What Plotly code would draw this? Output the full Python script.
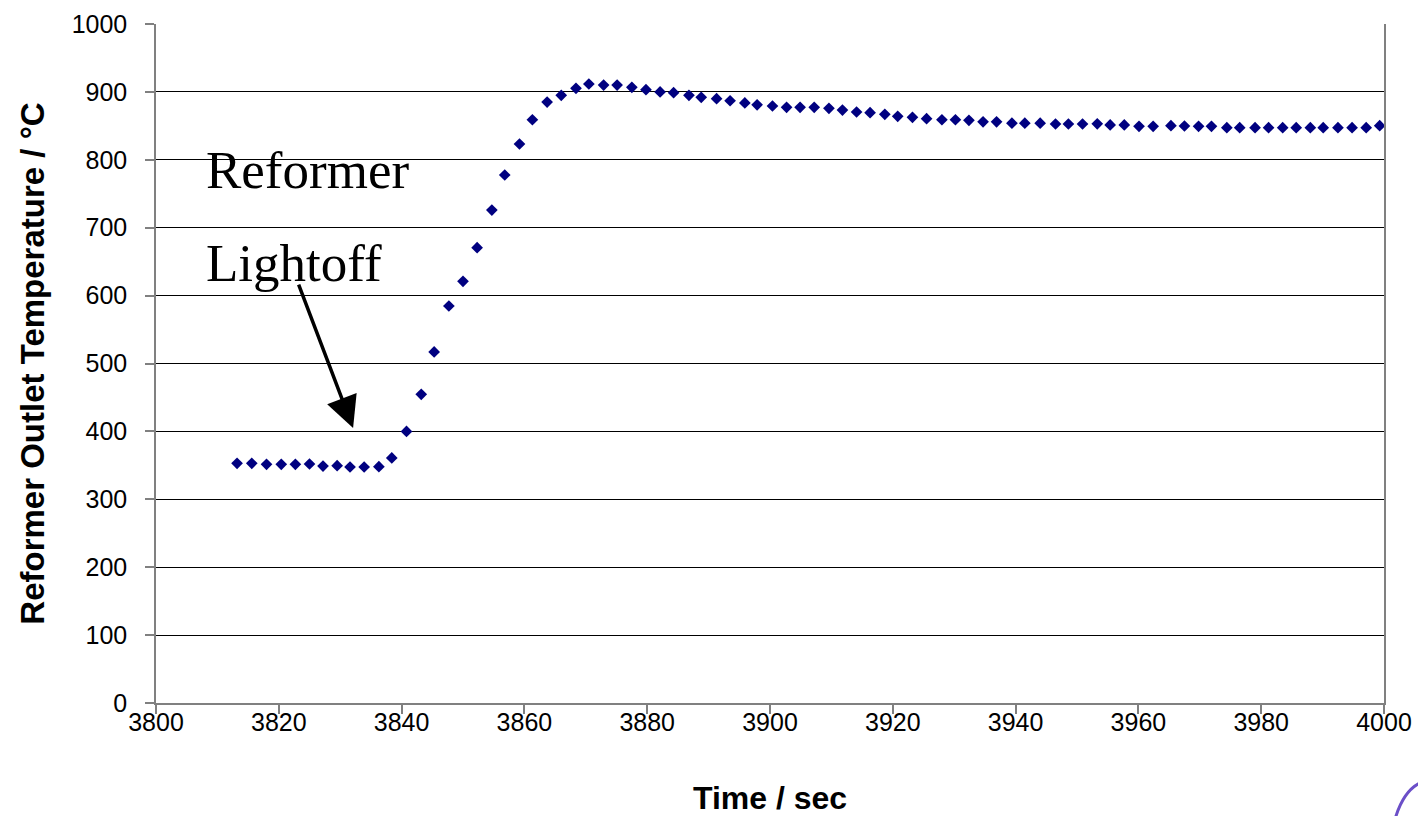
import plotly.graph_objects as go

time_sec = [3813.2, 3815.6, 3818.0, 3820.4, 3822.7, 3825.0, 3827.2, 3829.5, 3831.6, 3833.9,
            3836.3, 3838.4, 3840.8, 3843.2, 3845.3, 3847.7, 3850.0, 3852.3, 3854.7, 3856.8,
            3859.2, 3861.3, 3863.7, 3866.0, 3868.4, 3870.5, 3872.9, 3875.1, 3877.5, 3879.8,
            3882.1, 3884.3, 3886.8, 3888.8, 3891.3, 3893.5, 3895.9, 3897.9, 3900.4, 3902.7,
            3904.9, 3907.2, 3909.6, 3911.8, 3914.1, 3916.3, 3918.7, 3920.8, 3923.2, 3925.5,
            3928.0, 3930.2, 3932.4, 3934.7, 3936.9, 3939.4, 3941.5, 3944.0, 3946.5, 3948.6,
            3950.9, 3953.3, 3955.4, 3957.7, 3960.1, 3962.4, 3965.3, 3967.5, 3969.8, 3971.9,
            3974.4, 3976.5, 3979.0, 3981.2, 3983.5, 3985.7, 3988.0, 3990.1, 3992.5, 3994.8,
            3997.1, 3999.3]

outlet_temp_c = [353, 353, 351.5, 351.5, 351.5, 352, 349, 349.5, 347.6, 347.6,
                 348, 361, 400, 454.6, 517, 584.7, 621, 670.6, 726, 777.6,
                 823.3, 859, 885, 895, 905.3, 911.6, 910, 910, 906.8, 903.3,
                 899.9, 898.9, 895, 892, 890, 887, 883.7, 881, 879.2, 877.3,
                 877.3, 877.3, 875.8, 873.3, 870.4, 869.4, 867, 864, 862.6, 860.6,
                 859, 859, 858.2, 856, 856, 854, 854, 854, 852.7, 852.7,
                 852.7, 853, 851.3, 851.3, 849.3, 849.3, 850.2, 849.8, 849.3, 849.3,
                 847.3, 847.3, 847.3, 847.3, 847.3, 847.3, 847.3, 847.3, 847.3, 847.3,
                 847.3, 850.2]

x_ticks = [3800, 3820, 3840, 3860, 3880, 3900, 3920, 3940, 3960, 3980, 4000]
y_ticks = [0, 100, 200, 300, 400, 500, 600, 700, 800, 900, 1000]

fig = go.Figure()
fig.add_trace(go.Scatter(
    x=time_sec, y=outlet_temp_c, mode="markers",
    marker=dict(symbol="diamond", size=9, color="#000080", line=dict(width=0)),
    showlegend=False,
))

axis_font = dict(family="Liberation Sans, Arial, sans-serif", size=25, color="black")
title_font = dict(family="Liberation Sans, Arial, sans-serif", size=32, color="black")
ytitle_font = dict(family="Liberation Sans, Arial, sans-serif", size=33, color="black")

fig.update_layout(
    width=1418, height=816,
    margin=dict(l=156, r=34, t=24, b=113, pad=0),
    paper_bgcolor="white", plot_bgcolor="white",
    xaxis=dict(
        range=[3800, 4000], tickvals=x_ticks, ticktext=[str(v) for v in x_ticks],
        showgrid=False, zeroline=False, showline=True, linecolor="#808080", linewidth=1.5,
        ticks="outside", ticklen=9, tickcolor="#808080", tickwidth=1.5,
        tickfont=axis_font, ticklabelstandoff=-13, automargin=False,
        title=dict(text="<b>Time / sec</b>", font=title_font, standoff=54),
    ),
    yaxis=dict(
        range=[0, 1000], tickvals=y_ticks, ticktext=[str(v) for v in y_ticks],
        showgrid=True, gridcolor="#000000", gridwidth=1,
        zeroline=False, showline=True, linecolor="#808080", linewidth=1.5, mirror=True,
        ticks="outside", ticklen=9, tickcolor="#808080", tickwidth=1.5,
        tickfont=axis_font, ticklabelstandoff=13, automargin=False,
        title=dict(text="<b>Reformer Outlet Temperature / °C</b>", font=ytitle_font, standoff=17),
    ),
)

serif = dict(family="Liberation Serif, Times New Roman, serif", size=53, color="black")
fig.add_annotation(x=3807.8, y=785, xref="x", yref="y", text="Reformer", showarrow=False,
                   xanchor="left", yanchor="middle", font=serif)
fig.add_annotation(x=3807.8, y=648, xref="x", yref="y", text="Lightoff", showarrow=False,
                   xanchor="left", yanchor="middle", font=serif)
fig.add_annotation(x=3832.1, y=405, xref="x", yref="y", text="", showarrow=True,
                   ax=-55, ay=-145, arrowhead=2, arrowsize=1.8, arrowwidth=3.5,
                   arrowcolor="black")

# small purple corner fragment at the bottom right
fig.add_shape(type="path", xref="paper", yref="paper",
              path="M 1.0095,-0.168 Q 1.016,-0.13 1.029,-0.118",
              line=dict(color="#6b4fc8", width=3))

fig.write_html("out.html")
